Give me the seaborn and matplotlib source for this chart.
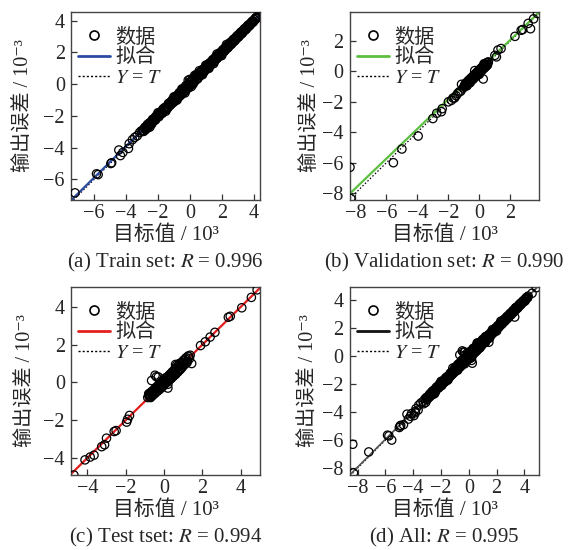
import numpy as np
import matplotlib
matplotlib.use("Agg")
import matplotlib.pyplot as plt
from matplotlib.lines import Line2D
import seaborn as sns

# ---------------- data (units 10^3 / 10^-3) ----------------
train_target = [-7.2, -5.85, -5.75, -4.95, -4.9, -4.45, -4.35, -4.2, -3.85, -3.8, -3.6, -3.45, -3.3, -3.15, -3.05,
                -2.95, -2.88, -2.8, -2.73, -2.66, -2.6, -2.52, -2.45, -2.38, -2.3, -2.22, -2.15, -2.08, -2.0,
                -1.93, -1.86, -1.78, -1.7, -1.63, -1.56, -1.48, -1.41, -1.34, -1.26, -1.19, -1.12, -1.05, -0.97,
                -0.9, -0.83, -0.76, -0.68, -0.61, -0.54, -0.47, -0.4, -0.33, -0.26, -0.19, -0.12, -0.05, 0.02,
                0.09, 0.16, 0.23, 0.3, 0.37, 0.44, 0.51, 0.58, 0.65, 0.72, 0.79, 0.86, 0.93, 1.0, 1.07, 1.14,
                1.21, 1.28, 1.35, 1.42, 1.5, 1.57, 1.64, 1.71, 1.78, 1.86, 1.93, 2.0, 2.07, 2.15, 2.22, 2.29,
                2.37, 2.44, 2.51, 2.59, 2.66, 2.74, 2.81, 2.89, 2.96, 3.04, 3.11, 3.19, 3.26, 3.34, 3.41, 3.49,
                3.57, 3.64, 3.72, 3.8, 3.88, 3.96, 4.04, 4.12, 4.2, 4.27,
                0.0, -0.1, 0.1, 0.3, 0.5, 0.6, 0.8, 1.0, 1.2, -0.3, -0.5, -0.8, -1.0, 1.5, 1.7, 2.0, 2.3,
                -1.5, -2.0, -2.5, 0.2, 0.4,
                -2.92, -2.84, -2.77, -2.7, -2.63, -2.56, -2.49, -2.42, -2.34, -2.26, -2.19, -2.12, -2.04, -1.97,
                -1.9, -1.82, -1.74, -1.67, -1.6, -1.52, -1.45, -1.38, -1.3, -1.23, -1.16, -1.09, -1.01, -0.94,
                -0.87, -0.8, -0.72, -0.65, -0.58, -0.51, -0.44, -0.37, -0.3, -0.23, -0.16, -0.09, -0.02, 0.05,
                0.12, 0.19, 0.26, 0.33, 0.4, 0.47, 0.54, 0.61, 0.68, 0.75, 0.82, 0.89, 0.96, 1.03, 1.1, 1.17,
                1.24, 1.31, 1.38, 1.46, 1.53, 1.6, 1.67, 1.74, 1.82, 1.89, 1.96, 2.03, 2.11, 2.18, 2.25, 2.33,
                2.4, 2.47, 2.55, 2.62, 2.7, 2.77, 2.85, 2.92, 3.0, 3.07, 3.15, 3.22, 3.3, 3.37, 3.45, 3.53,
                3.6, 3.68, 3.76, 3.84, 3.92, 4.0, 4.08, 4.16, 4.24]
train_output = [-6.85, -5.65, -5.7, -5.0, -4.95, -4.15, -4.5, -4.3, -4.05, -3.75, -3.5, -3.35, -3.25, -3.05, -2.95,
                -2.9, -2.96, -2.7, -2.76, -2.54, -2.7, -2.52, -2.38, -2.5, -2.26, -2.14, -2.25, -2.02, -1.92,
                -2.04, -1.8, -1.7, -1.82, -1.58, -1.46, -1.58, -1.38, -1.22, -1.36, -1.12, -1.04, -1.16, -0.92,
                -0.78, -0.94, -0.7, -0.58, -0.74, -0.46, -0.36, -0.52, -0.26, -0.12, -0.3, -0.04, 0.08, -0.1,
                0.16, 0.3, 0.12, 0.38, 0.5, 0.32, 0.6, 0.7, 0.54, 0.8, 0.9, 0.76, 1.0, 1.1, 0.98, 1.22,
                1.3, 1.18, 1.42, 1.52, 1.4, 1.64, 1.74, 1.62, 1.86, 1.95, 1.84, 2.08, 2.16, 2.06, 2.3, 2.38,
                2.28, 2.52, 2.6, 2.5, 2.74, 2.82, 2.72, 2.96, 3.04, 2.96, 3.18, 3.26, 3.18, 3.4, 3.48, 3.42,
                3.62, 3.7, 3.66, 3.84, 3.92, 3.9, 4.08, 4.16, 4.16, 4.3,
                0.3, 0.25, -0.15, 0.55, 0.35, 0.85, 0.6, 1.2, 1.0, -0.55, -0.3, -1.0, -0.8, 1.3, 1.9, 1.8, 2.5,
                -1.7, -1.8, -2.7, 0.0, 0.6,
                -2.98, -2.76, -2.87, -2.67, -2.75, -2.46, -2.49, -2.49, -2.22, -2.3, -2.27, -2.01, -2.1, -2.05,
                -1.79, -1.88, -1.82, -1.55, -1.65, -1.62, -1.48, -1.5, -1.2, -1.3, -1.26, -0.98, -1.12, -1.06,
                -0.75, -0.86, -0.84, -0.52, -0.66, -0.64, -0.3, -0.45, -0.44, -0.08, -0.24, -0.24, 0.14, -0.05,
                0.0, 0.34, 0.16, 0.2, 0.54, 0.36, 0.42, 0.74, 0.58, 0.64, 0.94, 0.8, 0.86, 1.14, 1.01, 1.08,
                1.34, 1.22, 1.3, 1.56, 1.45, 1.52, 1.77, 1.66, 1.74, 1.98, 1.88, 1.96, 2.2, 2.1, 2.18, 2.42,
                2.32, 2.4, 2.63, 2.55, 2.63, 2.85, 2.78, 2.86, 3.07, 3.01, 3.09, 3.29, 3.24, 3.32, 3.51, 3.47,
                3.55, 3.74, 3.71, 3.8, 3.97, 3.96, 4.05, 4.21, 4.2]

val_target = [-8.35, -8.3, -5.55, -5.0, -3.95, -3.0, -2.75, -2.45, -2.4, -2.0, -1.8, -1.7, -1.6, -1.5, -1.4,
              -1.3, -1.2, -1.15, -1.05, -0.95, -0.9, -0.85, -0.8, -0.8, -0.75, -0.7, -0.65, -0.6, -0.6, -0.55,
              -0.5, -0.45, -0.4, -0.35, -0.3, -0.3, -0.25, -0.2, -0.15, -0.1, -0.05, 0.0, 0.0, 0.05, 0.1, 0.15,
              0.2, 0.25, 0.3, 0.3, 0.35, 0.4, 0.45, 0.5, 0.55, 1.0, 1.1, 1.2, 1.4, 2.3, 2.7, 2.8, 3.15, 3.3,
              3.5, 3.75,
              -0.98, -0.92, -0.87, -0.82, -0.77, -0.72, -0.67, -0.62, -0.57, -0.52, -0.47, -0.42, -0.37, -0.32,
              -0.27, -0.22, -0.17, -0.12, -0.07, -0.02, 0.03, 0.08, 0.13, 0.18, 0.23, 0.28, 0.33, 0.38, 0.43,
              0.48, 0.53, 0.58]
val_output = [-6.3, -8.35, -6.0, -5.1, -4.25, -3.1, -2.75, -2.65, -2.45, -2.0, -1.9, -1.75, -1.75, -1.6, -1.45,
              -1.35, -1.3, -0.85, -1.1, -0.95, -0.8, -0.9, -0.7, -0.95, -0.8, -0.6, -0.7, -0.5, -0.75, -0.6,
              -0.4, -0.55, -0.3, -0.45, -0.2, 0.05, -0.35, -0.1, -0.25, 0.0, -0.15, 0.1, -0.2, -0.05, 0.2, 0.05,
              0.3, -0.5, 0.2, 0.5, 0.45, 0.3, 0.55, 0.4, 0.6, 1.05, 0.95, 1.4, 1.5, 2.3, 2.7, 2.75, 3.15, 2.8,
              3.45, 3.8,
              -1.0, -0.86, -0.95, -0.75, -0.85, -0.64, -0.76, -0.55, -0.66, -0.45, -0.56, -0.35, -0.46, -0.24,
              -0.36, -0.14, -0.27, -0.04, -0.16, 0.06, -0.06, 0.16, 0.04, 0.26, 0.14, 0.36, 0.24, 0.46, 0.34,
              0.56, 0.44, 0.62]

test_target = [-4.7, -4.12, -3.85, -3.65, -3.25, -3.1, -3.0, -2.6, -2.5, -1.95, -1.9, -1.8,
               -0.85, -0.8, -0.8, -0.75, -0.7, -0.7, -0.65, -0.6, -0.6, -0.55, -0.5, -0.5, -0.45, -0.47, -0.4,
               -0.3, -0.4, -0.35, -0.3, -0.25, -0.2, -0.2, -0.15, -0.1, -0.1, -0.05, 0.0, 0.0, 0.05, 0.1, 0.1,
               0.15, 0.2, 0.2, 0.25, 0.3, 0.3, 0.35, 0.4, 0.4, 0.45, 0.5, 0.5, 0.55, 0.6, 0.6, 0.65, 0.7, 0.75,
               0.8, 0.8, 0.85, 0.9, 0.95, 1.0, 1.05, 1.1, 1.15, 1.2, 1.3, 1.36, 1.44, 0.6, -0.65, 0.2,
               1.9, 2.15, 2.4, 2.65, 3.35, 3.45, 4.05, 4.55, 4.85,
               -0.78, -0.72, -0.66, -0.6, -0.54, -0.48, -0.42, -0.36, -0.3, -0.24, -0.18, -0.12, -0.06, 0.0,
               0.06, 0.12, 0.18, 0.24, 0.3, 0.36, 0.42, 0.48, 0.54, 0.6, 0.66, 0.72, 0.78, 0.84, 0.9, 0.96,
               1.02, 1.08, 1.14, 1.2, 1.26, 1.32]
test_output = [-4.9, -4.1, -3.95, -3.85, -3.4, -3.3, -2.95, -2.6, -2.55, -2.1, -1.95, -1.75,
               -0.8, -0.7, -0.6, -0.75, -0.55, -0.8, -0.6, -0.45, -0.7, -0.5, -0.35, -0.6, -0.4, 0.38, 0.3,
               0.29, -0.25, -0.45, -0.2, -0.3, -0.05, -0.25, -0.1, 0.05, -0.2, 0.0, 0.1, -0.1, 0.2, 0.0, 0.25,
               0.1, 0.3, -0.1, 0.2, 0.4, 0.15, 0.3, 0.5, 0.25, 0.45, 0.6, 0.35, 0.5, 0.7, 0.45, 0.9, 0.6, 0.8,
               1.0, 0.65, 0.9, 0.75, 1.05, 0.9, 1.15, 1.0, 1.2, 1.1, 1.35, 1.44, 1.0, 0.95, 0.1, -0.3,
               1.95, 2.15, 2.4, 2.65, 3.45, 3.5, 3.95, 4.5, 4.9,
               -0.65, -0.78, -0.5, -0.64, -0.42, -0.58, -0.3, -0.48, -0.15, -0.38, -0.05, -0.28, 0.08, -0.15,
               0.18, -0.02, 0.3, 0.1, 0.42, 0.2, 0.55, 0.32, 0.68, 0.42, 0.8, 0.55, 0.92, 0.68, 1.05, 0.82,
               1.18, 0.95, 1.3, 1.05, 1.4, 1.25]

all_target = train_target + val_target + test_target
all_output = train_output + val_output + test_output

panel_letters = ["a", "b", "c", "d"]
panel_names = ["Train set", "Validation set", "Test tset", "All"]
panel_R = ["0.996", "0.990", "0.994", "0.995"]
fit_slope = [0.99, 0.975, 1.0, 0.995]
fit_intercept = [0.05, 0.12, 0.0, 0.03]
fit_colors = ["#2b4ba3", "#5cbf3f", "#e3201f", "#555555"]
legend_line_colors = ["#2b4ba3", "#5cbf3f", "#e3201f", "#111111"]
xlims = [(-7.45, 4.4), (-8.35, 3.85), (-4.85, 5.0), (-8.55, 5.05)]
ylims = [(-7.3, 4.55), (-8.45, 3.9), (-4.9, 5.05), (-8.5, 4.95)]
ticks = [[-6, -4, -2, 0, 2, 4], [-8, -6, -4, -2, 0, 2], [-4, -2, 0, 2, 4], [-8, -6, -4, -2, 0, 2, 4]]
legend_labels = ["数据", "拟合", "$Y$ = $T$"]
xlabel_text = "目标值 / 10³"
ylabel_text = "输出误差 / 10⁻³"

# ---------------- style ----------------
sns.set_style("ticks")
plt.rcParams["font.family"] = ["Liberation Serif", "Noto Sans CJK SC", "DejaVu Serif"]
plt.rcParams["mathtext.fontset"] = "stix"
plt.rcParams["axes.unicode_minus"] = True
plt.rcParams["xtick.direction"] = "in"
plt.rcParams["ytick.direction"] = "in"

fig = plt.figure(figsize=(5.76, 5.5), dpi=100)
W, H = 576, 550
positions = [(71, 12), (350, 12), (71, 287), (350, 287)]
aw, ah = 189, 188
ylabel_x = [-0.2, -0.16, -0.19, -0.17]

datasets = [(train_target, train_output), (val_target, val_output),
            (test_target, test_output), (all_target, all_output)]

for i, (tx, ty) in enumerate(datasets):
    px, py = positions[i]
    ax = fig.add_axes([px / W, 1 - (py + ah) / H, aw / W, ah / H])
    x0, x1 = xlims[i]
    line_x = np.array([x0, x1])
    ax.plot(line_x, line_x, color="black", lw=0.9, ls=(0, (1.2, 1.6)), zorder=1)
    ax.plot(line_x, fit_slope[i] * line_x + fit_intercept[i], color=fit_colors[i],
            lw=1.6 if i < 3 else 1.2, zorder=2)
    sns.scatterplot(x=tx, y=ty, ax=ax, marker="o", s=36, facecolor="none",
                    edgecolor="black", linewidth=0.9, zorder=3, legend=False)
    ax.set_xlim(xlims[i])
    ax.set_ylim(ylims[i])
    ax.set_xticks(ticks[i])
    ax.set_yticks(ticks[i])
    ax.tick_params(labelsize=14.5, length=4, width=0.9, color="#333333")
    ax.tick_params(axis="y", pad=4.5)
    ax.tick_params(axis="x", pad=3.0)
    for sp in ax.spines.values():
        sp.set_color("#444444")
        sp.set_linewidth(1.0)
    ax.set_xlabel(xlabel_text, fontsize=15)
    ax.set_ylabel(ylabel_text, fontsize=14.5)
    ax.xaxis.set_label_coords(0.5, -0.135)
    ax.yaxis.set_label_coords(ylabel_x[i], 0.5)

    handles = [Line2D([], [], marker="o", ls="none", mfc="none", mec="black", ms=6.5, mew=1.2),
               Line2D([], [], color=legend_line_colors[i], lw=2.0),
               Line2D([], [], color="black", lw=1.0, ls=(0, (1.5, 1.5)))]
    ax.legend(handles, legend_labels, loc="upper left", bbox_to_anchor=(0.0, 0.95),
              frameon=False, fontsize=14.5,
              handlelength=1.6, handletextpad=0.25, labelspacing=0.05,
              borderaxespad=0.1, borderpad=0.25)

    cx = (px + aw / 2) / W
    cy = 1 - (py + 250) / H
    fig.text(cx, cy, f"({panel_letters[i]}) {panel_names[i]}: $R$ = {panel_R[i]}",
             ha="center", va="center", fontsize=15)

fig.savefig("out.png", dpi=100)
